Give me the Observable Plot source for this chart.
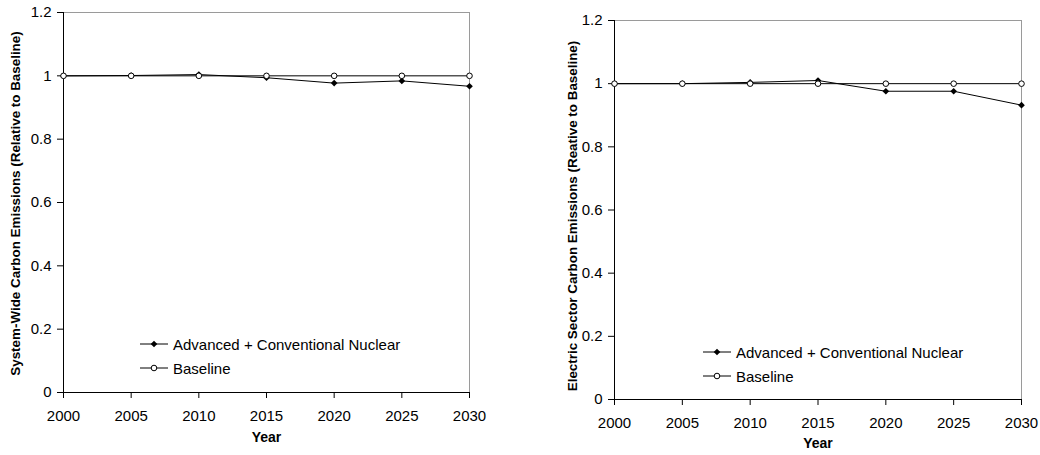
<!DOCTYPE html>
<html>
<head>
<meta charset="utf-8">
<script src="https://cdn.jsdelivr.net/npm/d3@7"></script>
<script src="https://cdn.jsdelivr.net/npm/@observablehq/plot@0.6"></script>
<style>
  html, body { margin: 0; padding: 0; background: #fff; }
  #wrap { position: relative; width: 1040px; height: 455px; overflow: hidden; font-family: "Liberation Sans", Arial, sans-serif; }
  .panel { position: absolute; top: 0; }
  .legend { position: absolute; font-size: 15px; color: #000; line-height: 1; }
  .legend .row { display: flex; align-items: center; height: 24px; }
  .legend svg { margin-right: 5px; }
</style>
</head>
<body>
<div id="wrap"></div>
<script>
// ---- data ----
const years = [2000, 2005, 2010, 2015, 2020, 2025, 2030];
const yTicks = [0, 0.2, 0.4, 0.6, 0.8, 1.0, 1.2];
const seriesNames = ["Advanced + Conventional Nuclear", "Baseline"];

const systemAdvanced = [1.000, 1.001, 1.004, 0.994, 0.977, 0.984, 0.967];
const systemBaseline = [1.000, 1.000, 1.000, 1.000, 1.000, 1.000, 1.000];

const electricAdvanced = [1.000, 1.000, 1.004, 1.010, 0.976, 0.976, 0.932];
const electricBaseline = [1.000, 1.000, 1.000, 1.000, 1.000, 1.000, 1.000];

const yTitles = [
  "System-Wide Carbon Emissions (Relative to Baseline)",
  "Electric Sector Carbon Emissions (Reative to Baseline)"
];
const xTitle = "Year";

// ---- chart ----
function rowsOf(vals) { return years.map((yr, i) => ({year: yr, value: vals[i]})); }
const fmtY = d => String(+d.toFixed(1));

function panel(adv, base, yTitle, opt) {
  const a = rowsOf(adv), b = rowsOf(base);
  return Plot.plot({
    width: opt.width, height: 455,
    marginLeft: opt.ml, marginRight: opt.mr, marginTop: opt.mt, marginBottom: opt.mb,
    style: {fontFamily: "'Liberation Sans', Arial, sans-serif", fontSize: "15px", color: "#000", background: "transparent", overflow: "visible"},
    x: {domain: [2000, 2030]},
    y: {domain: [0, 1.2]},
    marks: [
      Plot.ruleY([1.2], {stroke: "#9a9a9a"}),
      Plot.ruleX([2030], {stroke: "#9a9a9a"}),
      Plot.axisX({ticks: years, tickFormat: d => String(d), tickSize: 6, tickPadding: 12, label: null}),
      Plot.axisY({ticks: yTicks, tickFormat: fmtY, tickSize: 6, tickPadding: 6, label: null}),
      Plot.ruleX([2000], {stroke: "#000"}),
      Plot.ruleY([0], {stroke: "#000"}),
      Plot.line(a, {x: "year", y: "value", stroke: "#000", strokeWidth: 1}),
      Plot.dot(a, {x: "year", y: "value", symbol: "diamond2", r: 3, fill: "#000", stroke: "none"}),
      Plot.line(b, {x: "year", y: "value", stroke: "#000", strokeWidth: 1}),
      Plot.dot(b, {x: "year", y: "value", symbol: "circle", r: 2.8, fill: "#fff", stroke: "#000", strokeWidth: 1}),
      Plot.text([yTitle], {text: d => d, frameAnchor: "left", textAnchor: "middle", rotate: -90, dx: opt.tdx, dy: opt.tdy, fontWeight: "bold", fontSize: 13.4}),
      Plot.text([xTitle], {text: d => d, frameAnchor: "bottom", dy: opt.xdy, fontWeight: "bold", fontSize: 14})
    ]
  });
}

function legend(left, top) {
  const div = document.createElement("div");
  div.className = "legend";
  div.style.left = left + "px";
  div.style.top = top + "px";
  const swatches = [
    `<svg width="28" height="10"><line x1="0" x2="28" y1="5" y2="5" stroke="#000"/><path d="M14,1.7L17.3,5L14,8.3L10.7,5Z" fill="#000"/></svg>`,
    `<svg width="28" height="10"><line x1="0" x2="28" y1="5" y2="5" stroke="#000"/><circle cx="14" cy="5" r="2.8" fill="#fff" stroke="#000"/></svg>`
  ];
  div.innerHTML = seriesNames.map((n, i) => `<div class="row">${swatches[i]}<span>${n}</span></div>`).join("");
  return div;
}

const wrap = document.getElementById("wrap");

const p1 = document.createElement("div");
p1.className = "panel"; p1.style.left = "0px";
p1.appendChild(panel(systemAdvanced, systemBaseline, yTitles[0],
  {width: 520, ml: 63, mr: 51, mt: 12, mb: 63, tdx: -48, tdy: 1, xdy: 49}));
wrap.appendChild(p1);

const p2 = document.createElement("div");
p2.className = "panel"; p2.style.left = "520px";
p2.appendChild(panel(electricAdvanced, electricBaseline, yTitles[1],
  {width: 520, ml: 94, mr: 19, mt: 20, mb: 56, tdx: -42, tdy: 6, xdy: 48}));
wrap.appendChild(p2);

wrap.appendChild(legend(140, 332));
wrap.appendChild(legend(703, 340));
</script>
</body>
</html>
